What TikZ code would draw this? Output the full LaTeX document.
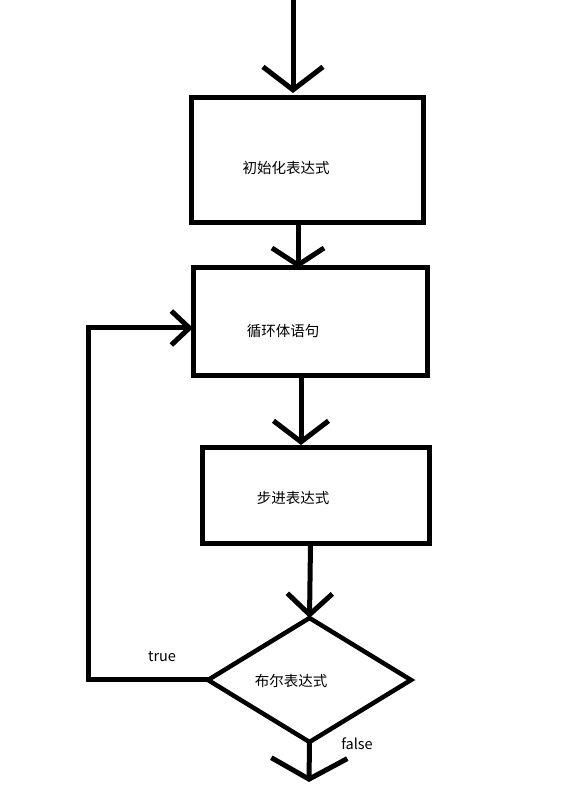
\documentclass[tikz,border=0pt]{standalone}
\usepackage{fontspec}
\newfontfamily\cjk{Noto Sans CJK SC}
\usetikzlibrary{shapes.geometric,arrows.meta}
\begin{document}
\begin{tikzpicture}[x=1pt,y=1pt,
  stepbox/.style={draw,line width=5pt,rectangle,inner sep=0pt,outer sep=0pt},
  decbox/.style={draw,line width=4.5pt,diamond,inner sep=0pt,outer sep=0pt,minimum width=203pt,minimum height=124pt},
  lbl/.style={font=\cjk\fontsize{14.5}{17}\selectfont},
  conn/.style={line width=5pt},
  arr/.style 2 args={conn,-{Straight Barb[length=#1pt,width=#2pt]}}
]
\useasboundingbox (0,0) rectangle (562,786);
\node[stepbox,minimum width=232pt,minimum height=125pt,
  label={[lbl,xshift=-21pt,yshift=-7.5pt]center:初始化表达式}] (b1) at (307,625.5) {};
\node[stepbox,minimum width=234pt,minimum height=108pt,
  label={[lbl,xshift=-27pt,yshift=-9pt]center:循环体语句}] (b2) at (310,464) {};
\node[stepbox,minimum width=227pt,minimum height=96pt,
  label={[lbl,xshift=-22.5pt,yshift=-2pt]center:步进表达式}] (b3) at (315.5,290) {};
\node[decbox,label={[lbl,xshift=-18.5pt,yshift=-1pt]center:布尔表达式}] (d) at (309.5,106) {};
\coordinate (in) at (293,786);
\coordinate (out) at (309,4);
\coordinate (loopc) at (88,106);
\node[lbl,inner sep=0pt] (t) at (162,129) {true};
\node[lbl,inner sep=0pt] (f) at (357,42) {false};
\draw[arr={23}{60}] (in) -- ([yshift=5pt]in |- b1.north);
\draw[arr={17}{52}] ([xshift=-9pt]b1.south) -- ([xshift=-9pt]b1.south |- b2.north);
\draw[arr={21}{55}] ([xshift=-9pt]b2.south) -- ([xshift=-9pt,yshift=3pt]b2.south |- b3.north);
\draw[arr={21}{45}] ([xshift=-5pt]b3.south) -- (d.north);
\draw[arr={21}{76}] (d.south) -- (out);
\draw[conn,-{Straight Barb[length=18pt,width=34pt]}] (d.west) -- (loopc) |- ([yshift=-6pt]b2.west);
\end{tikzpicture}
\end{document}
